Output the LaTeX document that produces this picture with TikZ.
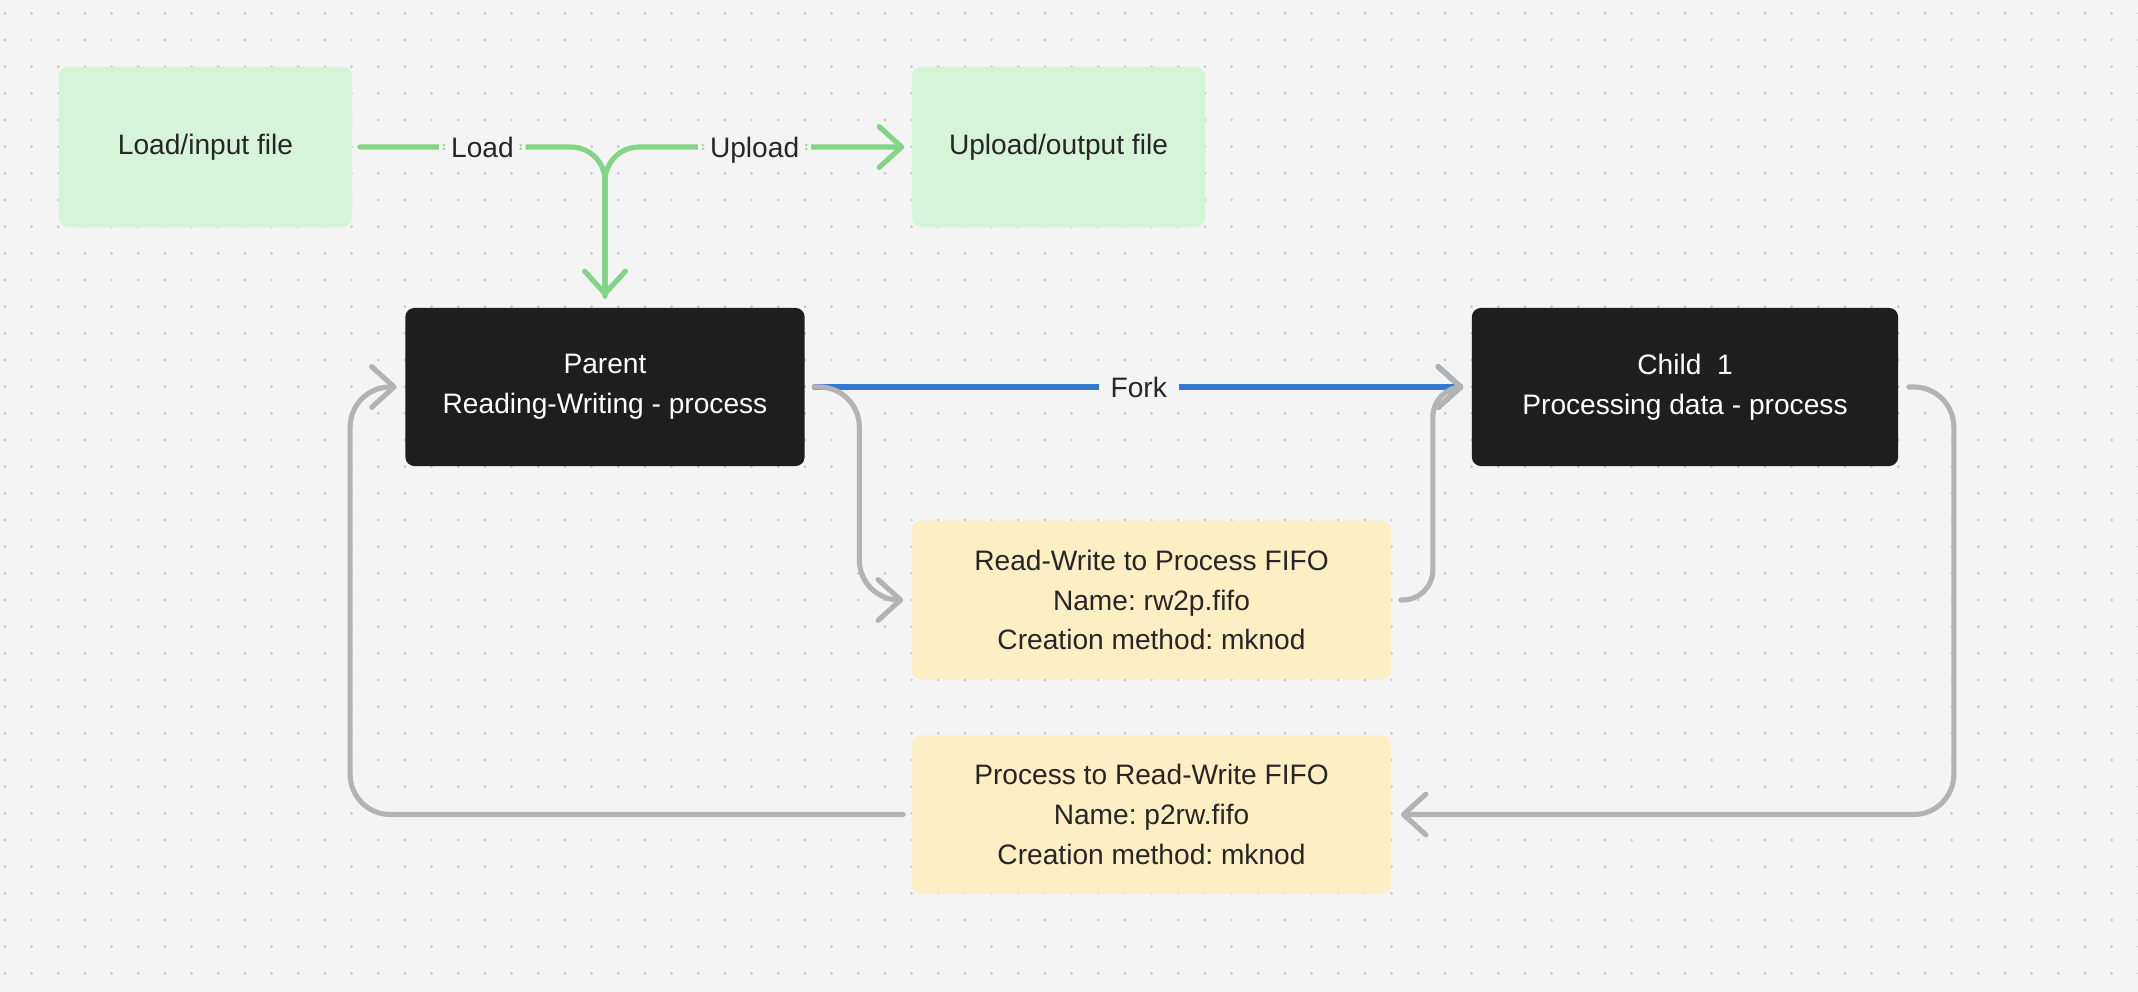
\documentclass[tikz,border=0pt]{standalone}
\usepackage{fontspec}
\setmainfont{Liberation Sans}
\usetikzlibrary{arrows.meta}
\frenchspacing
\definecolor{bgc}{HTML}{F4F4F4}
\definecolor{dotc}{HTML}{BDBDBD}
\definecolor{gfill}{HTML}{D5F4D8}
\definecolor{yfill}{HTML}{FDEEC4}
\definecolor{kfill}{HTML}{1E1E1E}
\definecolor{gline}{HTML}{82D585}
\definecolor{bline}{HTML}{3479D0}
\definecolor{kline}{HTML}{B3B3B3}
\definecolor{txt}{HTML}{262626}
\begin{document}
\begin{tikzpicture}[x=0.01cm, y=-0.01cm,
  box/.style={inner sep=0pt, rounded corners=0.09cm, align=center, font=\fontsize{8}{11.3}\selectfont},
  greenbox/.style={box, fill=gfill, text=txt, minimum width=2.93cm, minimum height=1.6cm},
  yellowbox/.style={box, fill=yfill, text=txt, minimum width=4.79cm, minimum height=1.58cm},
  darkbox/.style={box, fill=kfill, text=white, minimum height=1.58cm},
  lbl/.style={fill=bgc, text=txt, inner xsep=0.12cm, inner ysep=0.02cm, text height=7pt, text depth=1.3pt, font=\fontsize{8}{11.3}\selectfont},
  arr/.style={line width=1.45pt, line cap=round, -{Straight Barb[round, length=6.4pt, width=11.6pt]}},
  greenarr/.style={arr, draw=gline, rounded corners=0.34cm},
  bluearr/.style={arr, draw=bline},
  grayarr/.style={arr, draw=kline, rounded corners=0.4cm}]
\useasboundingbox (0,0) rectangle (2138,992);
\fill[bgc] (0,0) rectangle (2138,992);
\foreach \i in {0,...,80}
  \foreach \j in {0,...,36}
    \fill[dotc] (5+26.667*\i,13.333+26.667*\j) circle[radius=0.013cm];
\node[greenbox] (load) at (205.5,147){Load/input file};
\node[greenbox] (upload) at (1058.5,147){Upload/output file};
\node[darkbox, minimum width=3.99cm] (parent) at (605,387){Parent\\Reading-Writing - process};
\node[darkbox, minimum width=4.26cm] (child) at (1685,387){Child\ \ 1\\Processing data - process};
\node[yellowbox] (fifo1) at (1151.5,600){Read-Write to Process FIFO\\Name: rw2p.fifo\\Creation method: mknod};
\node[yellowbox] (fifo2) at (1151.5,814.5){Process to Read-Write FIFO\\Name: p2rw.fifo\\Creation method: mknod};
\draw[greenarr] ([xshift=0.07cm]load.east) -| node[lbl, pos=0.25]{Load} ([yshift=0.11cm]parent.north);
\draw[greenarr] ([yshift=0.11cm]parent.north) |- node[lbl, pos=0.75]{Upload} ([xshift=-0.07cm]upload.west);
\draw[bluearr] ([xshift=0.09cm]parent.east) -- node[lbl]{Fork} ([xshift=-0.08cm]child.west);
\draw[grayarr] ([xshift=0.09cm]parent.east) -- ++(45,0) |- ([xshift=-0.08cm]fifo1.west);
\draw[grayarr, rounded corners=0.3cm] ([xshift=0.09cm]fifo1.east) -- ++(32,0) |- ([xshift=-0.08cm]child.west);
\draw[grayarr] ([xshift=0.1cm]child.east) -- ++(45,0) |- ([xshift=0.09cm]fifo2.east);
\draw[grayarr] ([xshift=-0.08cm]fifo2.west) -- ++(-553,0) |- ([xshift=-0.08cm]parent.west);
\end{tikzpicture}
\end{document}
